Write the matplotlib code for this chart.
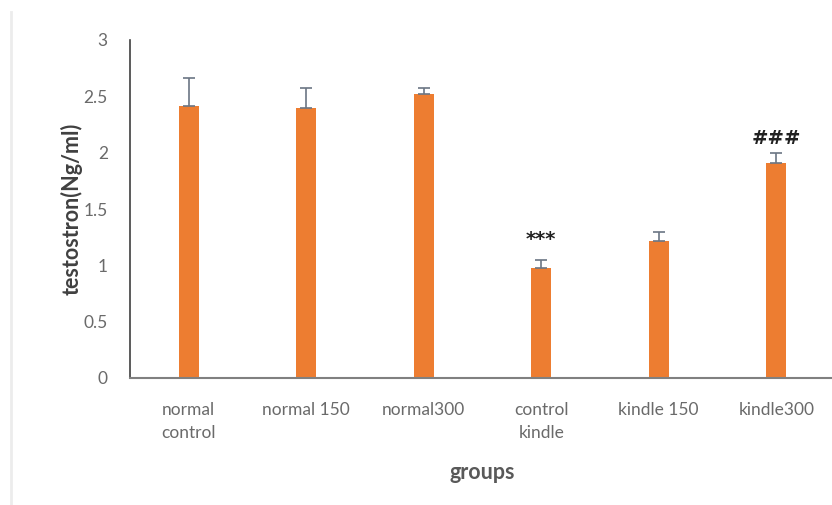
import matplotlib
matplotlib.use("Agg")
import matplotlib.pyplot as plt
from matplotlib.lines import Line2D

groups = ["normal\ncontrol", "normal 150", "normal300", "control\nkindle", "kindle 150", "kindle300"]
testosterone = [2.41, 2.40, 2.52, 0.98, 1.22, 1.91]
sem = [0.25, 0.17, 0.05, 0.07, 0.08, 0.09]
marks = ["", "", "", "***", "", "###"]
mark_offsets = [0, 0, 0, 8, 0, 3]

plt.rcParams["font.family"] = ["Lato", "DejaVu Sans"]

W, H = 832, 505
fig = plt.figure(figsize=(W / 100, H / 100), dpi=100)
ax = fig.add_axes([130 / W, (H - 378) / H, 705 / W, 338 / H])

x = list(range(len(groups)))
ax.bar(x, testosterone, width=0.17, color="#ED7D31", zorder=2)
ax.errorbar(x, testosterone, yerr=[[0] * len(sem), sem], fmt="none",
            ecolor="#6b7684", elinewidth=1.2, capsize=4, capthick=1.2, zorder=3)

for xi, v, e, m, off in zip(x, testosterone, sem, marks, mark_offsets):
    if m:
        ax.annotate(m, (xi, v + e), xytext=(0, off), textcoords="offset points",
                    ha="center", va="bottom", fontsize=14, fontweight="bold",
                    color="#222222", family="DejaVu Sans")

ax.set_xlim(-0.5, 5.5)
ax.set_ylim(0, 3)
ax.set_yticks([0, 0.5, 1, 1.5, 2, 2.5, 3])
ax.set_yticklabels(["0", "0.5", "1", "1.5", "2", "2.5", "3"])
ax.set_xticks(x)
ax.set_xticklabels(groups, linespacing=1.55)
ax.tick_params(axis="both", length=0, colors="#6a6a6a", labelsize=12.5)
ax.tick_params(axis="y", pad=16)
ax.tick_params(axis="x", pad=17)

for s in ["top", "right"]:
    ax.spines[s].set_visible(False)
ax.spines["left"].set_color("#404040")
ax.spines["left"].set_linewidth(1.2)
ax.spines["bottom"].set_color("#808080")
ax.spines["bottom"].set_linewidth(1.5)

ax.set_ylabel("testostron(Ng/ml)", fontsize=15.5, fontweight="bold", color="#404040", labelpad=1)
ax.set_xlabel("groups", fontsize=15.5, fontweight="bold", color="#595959", labelpad=15)

# light frame edge on the left of the chart area
fig.add_artist(Line2D([11 / W, 11 / W], [0, 1 - 12 / H], color="#ececec", linewidth=2))

fig.savefig("out.png", dpi=100)
